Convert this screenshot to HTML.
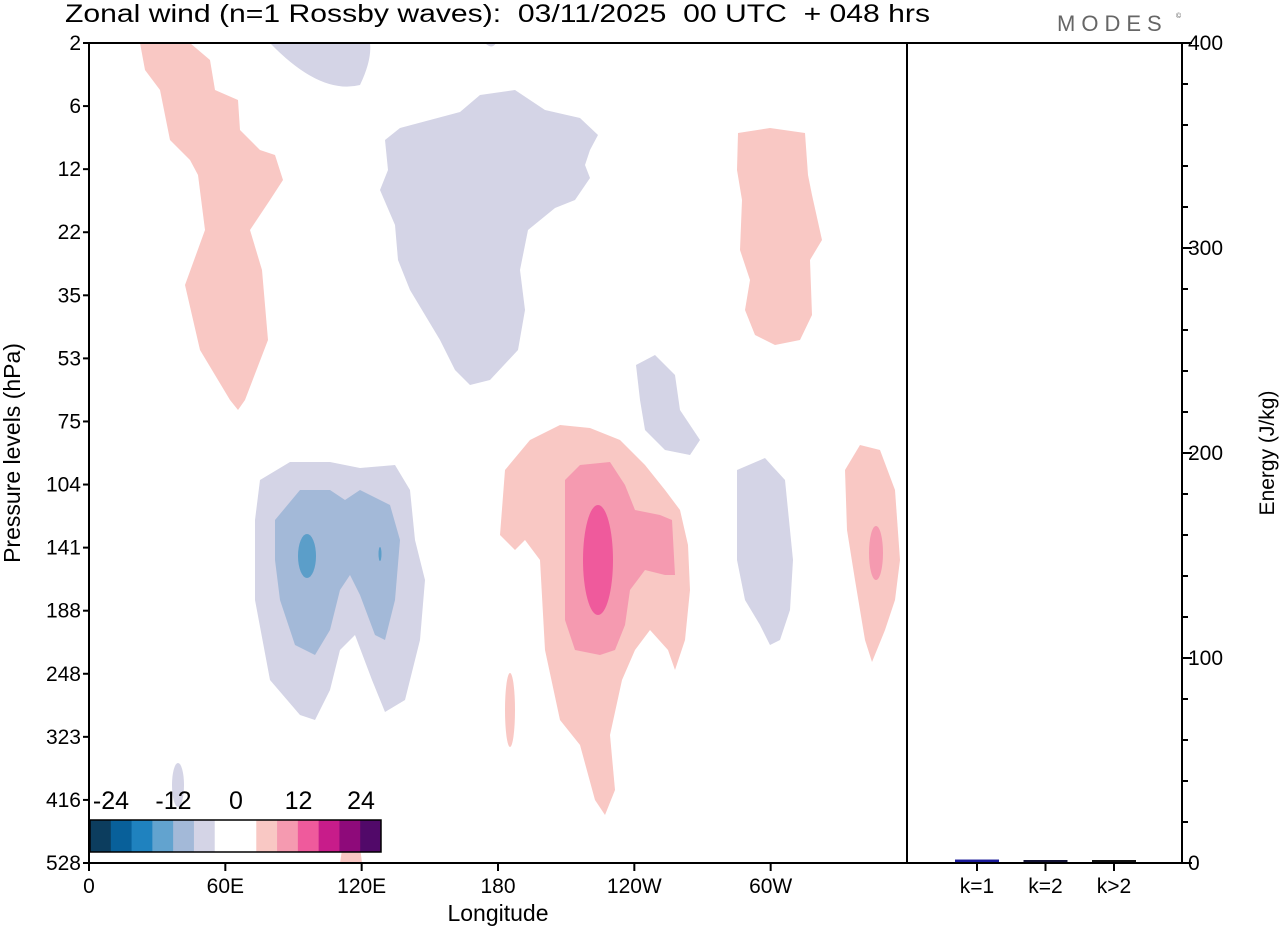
<!DOCTYPE html>
<html><head><meta charset="utf-8"><style>
body{margin:0;background:#fff;width:1280px;height:930px;overflow:hidden}
svg{display:block;font-family:"Liberation Sans",Arial,sans-serif}
text{white-space:pre}
</style></head><body>
<svg id="c" width="1280" height="930" viewBox="0 0 1280 930" xml:space="preserve">
<g>
<path fill="#f9c8c4" d="M140 43 L190 43 L210 60 L215 90 L238 100 L240 130 L260 150 L275 155 L283 180 L270 200 L250 230 L262 270 L268 340 L245 400 L238 410 L230 400 L200 350 L185 285 L205 230 L198 175 L190 160 L170 140 L162 100 L160 90 L145 70 Z"/>
<path fill="#d4d4e6" d="M270 43 Q320 95 360 85 Q372 60 370 43 Z M485 43 L496 43 Q492 50 485 43 Z"/>
<path fill="#d4d4e6" d="M385 140 L400 128 L460 112 L480 95 L515 90 L545 110 L580 118 L598 135 L590 150 L585 165 L590 178 L575 200 L555 208 L528 230 L520 270 L525 310 L518 350 L490 380 L470 385 L455 370 L440 340 L410 290 L398 260 L395 225 L380 190 L388 170 Z"/>
<path fill="#f9c8c4" d="M738 133 L770 128 L805 133 L808 175 L812 195 L822 240 L810 260 L812 315 L800 340 L775 345 L755 335 L745 310 L750 280 L740 250 L742 200 L737 170 Z"/>
<path fill="#d4d4e6" d="M636 365 L655 355 L675 375 L680 410 L700 440 L690 455 L665 450 L645 430 L640 400 Z"/>
<path fill="#d4d4e6" d="M260 480 L290 462 L330 462 L360 468 L395 465 L410 490 L415 540 L425 580 L420 640 L405 700 L385 712 L372 680 L355 635 L340 650 L330 690 L315 720 L300 715 L270 680 L255 600 L255 520 Z"/>
<path fill="#a3b9d8" d="M275 520 L300 490 L330 490 L345 500 L360 490 L390 505 L400 540 L395 600 L385 640 L375 635 L360 595 L350 575 L340 590 L330 630 L315 655 L295 645 L280 600 L275 560 Z"/>
<ellipse cx="307" cy="556" rx="9" ry="22" fill="#5b9ec9"/>
<ellipse cx="380" cy="554" rx="1.5" ry="7" fill="#5b9ec9"/>
<path fill="#f9c8c4" d="M500 535 L505 470 L530 440 L560 425 L590 428 L620 440 L645 465 L665 490 L680 510 L688 545 L690 590 L685 640 L675 670 L668 650 L650 630 L635 650 L622 680 L610 735 L615 790 L605 815 L595 800 L580 745 L560 720 L545 650 L540 560 L525 540 L515 550 Z"/>
<path fill="#f59ab0" d="M565 480 L580 465 L610 462 L625 485 L635 510 L660 515 L672 520 L675 575 L665 575 L645 570 L630 590 L625 625 L615 650 L600 655 L575 650 L565 620 L565 560 Z"/>
<ellipse cx="598" cy="560" rx="15" ry="55" fill="#ef5a9c"/>
<ellipse cx="510" cy="710" rx="5" ry="37" fill="#f9c8c4"/>
<path fill="#d4d4e6" d="M737 470 L765 458 L785 480 L793 560 L790 610 L780 640 L770 645 L760 625 L745 600 L737 560 Z"/>
<path fill="#f9c8c4" d="M845 470 L860 445 L880 450 L895 490 L900 560 L895 600 L885 630 L872 662 L865 640 L855 580 L847 530 Z"/>
<ellipse cx="876" cy="553" rx="7" ry="27" fill="#f59ab0"/>
<ellipse cx="178" cy="785" rx="6" ry="22" fill="#d4d4e6"/>
<path fill="#f9c8c4" d="M340 863 L345 830 L352 822 L358 830 L362 863 Z"/>
</g>
<g id="cbar"></g>
<g id="axes" stroke="#000" fill="none" stroke-width="2">
<rect x="89" y="43" width="1093" height="820"/>
<line x1="907" y1="43" x2="907" y2="863"/>
</g>
<g id="ticks"></g>
<g id="bars"></g>
<text x="65" y="22" font-size="25" textLength="865" lengthAdjust="spacingAndGlyphs">Zonal wind (n=1 Rossby waves):  03/11/2025  00 UTC  + 048 hrs</text>
<text x="1057" y="31" font-size="22" fill="#666" letter-spacing="6">MODES</text>
<text x="1176" y="18" font-size="7" fill="#555">©</text>
<text x="498" y="921" font-size="23" text-anchor="middle">Longitude</text>
<text transform="translate(20,453) rotate(-90)" font-size="23" text-anchor="middle">Pressure levels (hPa)</text>
<text transform="translate(1274,453) rotate(-90)" font-size="21" text-anchor="middle">Energy (J/kg)</text>
</svg>
<script>
const levels=["2","6","12","22","35","53","75","104","141","188","248","323","416","528"];
const lonLabels=["0","60E","120E","180","120W","60W"];
const lonValues=[0,60,120,180,240,300];
const energyTicks=[0,100,200,300,400];
const barCats=["k=1","k=2","k>2"];
const barVals=[1.2,0.8,0.6];
const barColors=["#1a1a9a","#111133","#111111"];
const cbarColors=["#0c3d5e","#08609a","#1f82bf","#62a3cf","#a3b9d8","#d4d4e6","#ffffff","#ffffff","#f9c8c4","#f59ab0","#ef5a9c","#c81c8a","#8e0a7a","#510969"];
const cbarLabels=["-24","-12","0","12","24"];
const NS="http://www.w3.org/2000/svg";
const X0=89,X1=907,Y0=43,Y1=863;
const xs=v=>X0+(v/360)*(X1-X0);
const ys=i=>Y0+i*(Y1-Y0)/(levels.length-1);
const ye=v=>Y1-(v/400)*(Y1-Y0);
function mk(t,a,p){const e=document.createElementNS(NS,t);for(const k in a)e.setAttribute(k,a[k]);p.appendChild(e);return e;}
const tk=document.getElementById('ticks');
levels.forEach((l,i)=>{const y=ys(i);
 let ln=mk('line',{x1:X0-6,y1:y,x2:X0,y2:y,stroke:'#000','stroke-width':2},tk);
 
 let t=mk('text',{x:X0-8,y:y+7,'font-size':21,'text-anchor':'end'},tk);t.textContent=l;
 });
lonValues.forEach((v,i)=>{const x=xs(v);
 let ln=mk('line',{x1:x,y1:Y1,x2:x,y2:Y1+8,stroke:'#000','stroke-width':2},tk);
 
 let t=mk('text',{x:x,y:893,'font-size':21,'text-anchor':'middle'},tk);t.textContent=lonLabels[i];
 });
for(let v=0;v<=400;v+=20){const y=ye(v);const maj=v%100===0;
 let ln=mk('line',{x1:1182,y1:y,x2:1182+(maj?10:6),y2:y,stroke:'#000','stroke-width':2},tk);
 }
energyTicks.forEach(v=>{let t=mk('text',{x:1188,y:ye(v)+7,'font-size':21},tk);t.textContent=v;
 });
const bg=document.getElementById('bars');
barCats.forEach((c,i)=>{const cx=977+i*68.5;const h=Math.max(2,Y1-ye(barVals[i]));
 let r=mk('rect',{x:cx-22,y:Y1-h-1,width:44,height:h,fill:barColors[i]},bg);
 
 let ln=mk('line',{x1:cx,y1:Y1,x2:cx,y2:Y1+8,stroke:'#000','stroke-width':2},bg);
 
 let t=mk('text',{x:cx,y:893,'font-size':21,'text-anchor':'middle'},bg);t.textContent=c;
 });
const cb=document.getElementById('cbar');const cw=(381-90)/cbarColors.length;
cbarColors.forEach((col,i)=>{let r=mk('rect',{x:90+i*cw,y:820,width:cw+0.5,height:32,fill:col},cb);
 });
let fr=mk('rect',{x:90,y:820,width:291,height:32,fill:'none',stroke:'#000','stroke-width':1.5},cb);

cbarLabels.forEach((l,i)=>{let t=mk('text',{x:111+i*62.5,y:809,'font-size':25,'text-anchor':'middle'},cb);t.textContent=l;
 });
</script>
</body></html>
